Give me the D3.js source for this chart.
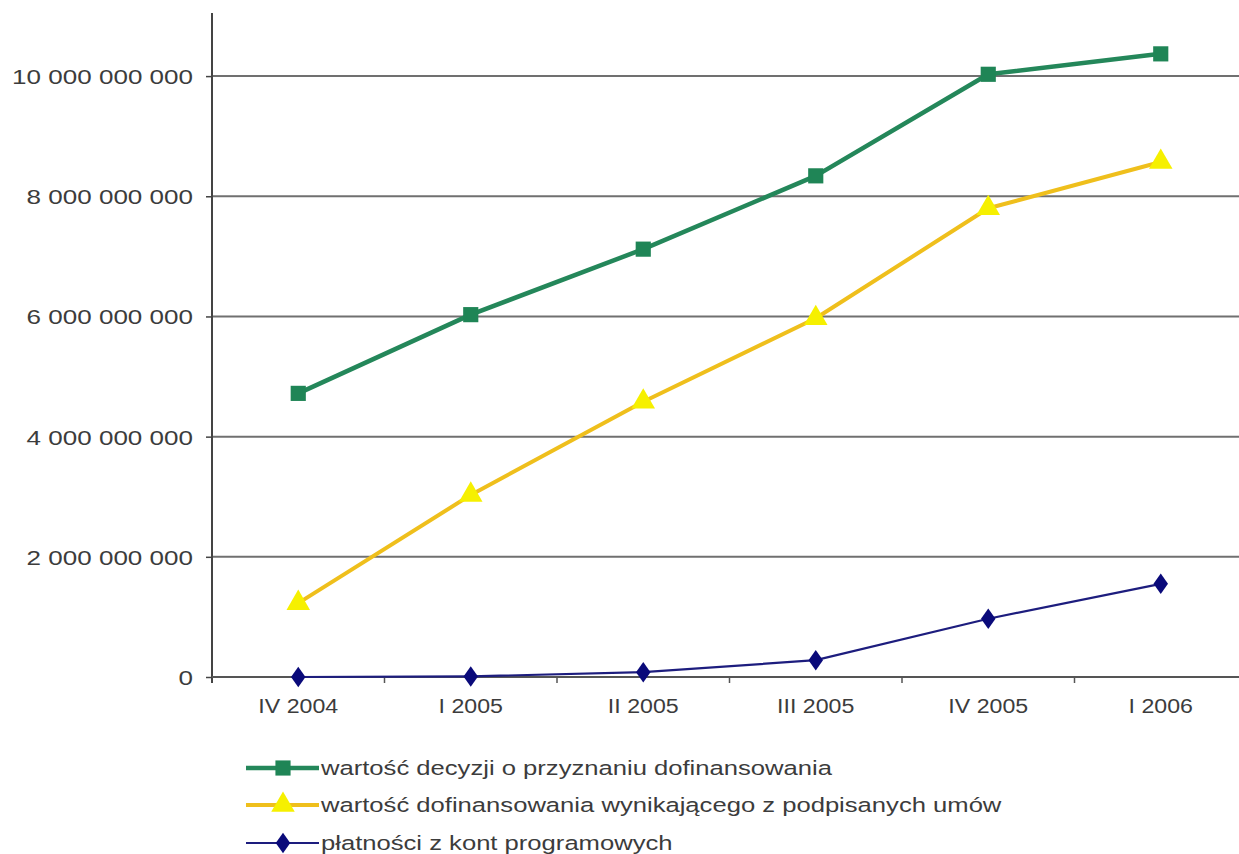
<!DOCTYPE html>
<html>
<head>
<meta charset="utf-8">
<script src="https://cdn.jsdelivr.net/npm/d3@7"></script>
<style>
  html, body { margin: 0; padding: 0; background: #fff; }
  svg { display: block; }
  text { font-family: "Liberation Sans", Arial, sans-serif; fill: #3c3c3c; }
</style>
</head>
<body>
<svg id="chart" width="1239" height="854"></svg>
<script>
const categories = ["IV 2004", "I 2005", "II 2005", "III 2005", "IV 2005", "I 2006"];
const decyzje = [4.72e9, 6.03e9, 7.12e9, 8.34e9, 10.03e9, 10.37e9];
const umowy = [1.23e9, 3.03e9, 4.58e9, 5.97e9, 7.80e9, 8.57e9];
const platnosci = [0, 0.01e9, 0.08e9, 0.28e9, 0.97e9, 1.55e9];
const yTicks = [0, 2e9, 4e9, 6e9, 8e9, 10e9];
const seriesNames = [
  "wartość decyzji o przyznaniu dofinansowania",
  "wartość dofinansowania wynikającego z podpisanych umów",
  "płatności z kont programowych"
];

const series = [
  { name: seriesNames[0], values: decyzje, line: "#24875a", marker: "#1f8556", shape: "square", width: 4.5 },
  { name: seriesNames[1], values: umowy, line: "#efbf1c", marker: "#f6f000", shape: "triangle", width: 4 },
  { name: seriesNames[2], values: platnosci, line: "#1d1d7e", marker: "#0a0a7a", shape: "diamond", width: 2.2 }
];

const svg = d3.select("#chart");
const x0 = 212, x1 = 1247, yBottom = 677, yTop = 16;

const x = d3.scalePoint().domain(categories).range([x0, x1]).padding(0.5);
const xBand = d3.scaleBand().domain(categories).range([x0, x1]);
const y = d3.scaleLinear().domain([0, 11e9]).range([yBottom, yTop]);

function stretch(sel, sx) {
  sel.each(function () {
    const t = d3.select(this);
    const xv = +t.attr("x") || 0;
    t.attr("x", xv / sx).attr("transform", `scale(${sx},1)`);
  });
}

// gridlines
svg.append("g")
  .selectAll("line")
  .data(yTicks.filter(d => d > 0))
  .join("line")
  .attr("x1", x0).attr("x2", 1239)
  .attr("y1", d => y(d)).attr("y2", d => y(d))
  .attr("stroke", "#707070").attr("stroke-width", 2);

// y axis
const fmt = v => d3.format(",")(v).replace(/,/g, " ");
const yAxis = svg.append("g")
  .attr("transform", `translate(${x0},0)`)
  .call(d3.axisLeft(y).tickValues(yTicks).tickFormat(fmt).tickSize(6).tickPadding(13));
yAxis.select(".domain").remove();
yAxis.selectAll(".tick line").attr("stroke", "#444").attr("stroke-width", 1.5);
yAxis.selectAll(".tick text")
  .attr("font-size", 20.5).attr("fill", "#3c3c3c")
  .attr("font-family", "'Liberation Sans', Arial, sans-serif")
  .attr("dy", "0.36em");
stretch(yAxis.selectAll(".tick text"), 1.27);
svg.append("line")
  .attr("x1", x0).attr("x2", x0).attr("y1", 13).attr("y2", yBottom + 6)
  .attr("stroke", "#444").attr("stroke-width", 2);

// x axis
svg.append("line")
  .attr("x1", x0).attr("x2", 1239).attr("y1", yBottom).attr("y2", yBottom)
  .attr("stroke", "#555").attr("stroke-width", 2);
svg.append("g")
  .selectAll("line")
  .data(categories.slice(1))
  .join("line")
  .attr("x1", d => xBand(d)).attr("x2", d => xBand(d))
  .attr("y1", yBottom).attr("y2", yBottom + 6)
  .attr("stroke", "#555").attr("stroke-width", 1.5);
const xl = svg.append("g")
  .selectAll("text")
  .data(categories)
  .join("text")
  .attr("x", d => x(d)).attr("y", 713)
  .attr("text-anchor", "middle")
  .attr("font-size", 20.5)
  .text(d => d);
stretch(xl, 1.13);

// markers
const symbolGen = {
  square: d3.symbol().type(d3.symbolSquare).size(230),
  triangle: d3.symbol().type(d3.symbolTriangle).size(240),
  diamond: d3.symbol().type(d3.symbolDiamond).size(150)
};
function drawMarker(g, s, cx, cy) {
  if (s.shape === "diamond") {
    g.append("path").attr("d", symbolGen.diamond())
      .attr("transform", `translate(${cx},${cy}) scale(1.1,0.9)`)
      .attr("fill", s.marker);
  } else {
    g.append("path").attr("d", symbolGen[s.shape]())
      .attr("transform", `translate(${cx},${cy})`)
      .attr("fill", s.marker);
  }
}

const line = d3.line().x((d, i) => x(categories[i])).y(d => y(d));
series.forEach(s => {
  const g = svg.append("g");
  g.append("path").datum(s.values)
    .attr("d", line).attr("fill", "none")
    .attr("stroke", s.line).attr("stroke-width", s.width)
    .attr("stroke-linejoin", "round");
  s.values.forEach((v, i) => drawMarker(g, s, x(categories[i]), y(v)));
});

// legend
const legendY = [768, 805, 843];
series.forEach((s, i) => {
  const g = svg.append("g");
  const ly = legendY[i];
  g.append("line").attr("x1", 246).attr("x2", 319).attr("y1", ly).attr("y2", ly)
    .attr("stroke", s.line).attr("stroke-width", s.width);
  drawMarker(g, s, 283, ly);
  const t = g.append("text").attr("x", 321).attr("y", ly + 7)
    .attr("font-size", 20.5).text(s.name);
  stretch(t, 1.25);
});
</script>
</body>
</html>
